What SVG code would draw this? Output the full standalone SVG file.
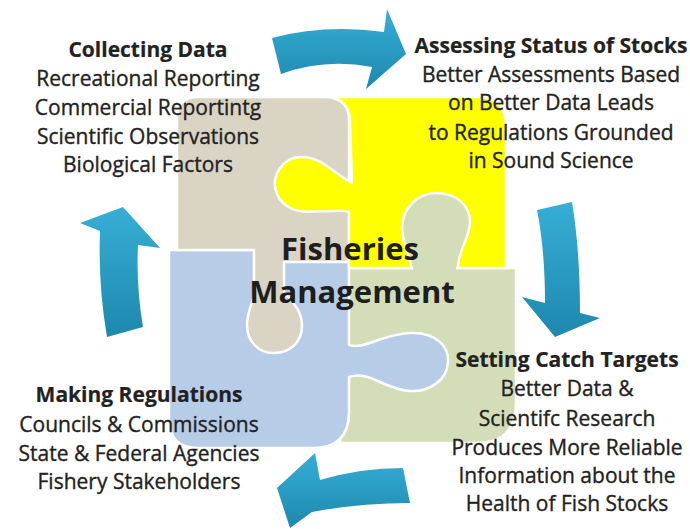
<svg xmlns="http://www.w3.org/2000/svg" width="690" height="529" viewBox="0 0 690 529">
<defs>
<linearGradient id="arrowGrad" x1="0" y1="0" x2="0" y2="1">
<stop offset="0" stop-color="#36AED6"/>
<stop offset="1" stop-color="#1E88AE"/>
</linearGradient>
<style>
.piece{stroke:#FFFFFF;stroke-width:2.5;stroke-linejoin:round}
.beige{fill:#D9D4C3}
.yellow{fill:#FFFF00}
.green{fill:#D3DDB7}
.blue{fill:#B6CCE7}
.arrow{fill:url(#arrowGrad)}
.t{font-family:"Open Sans","Liberation Sans",sans-serif;font-size:21px;fill:#222222;stroke:#222222;stroke-width:0.35;text-anchor:middle}
.b{font-weight:bold;stroke-width:0.2}
.big{font-family:"Open Sans","Liberation Sans",sans-serif;font-size:31px;font-weight:bold;fill:#1E1E1E;text-anchor:middle}
</style>
</defs>
<rect width="690" height="529" fill="#FFFFFF"/>

<g id="puzzle">
<path id="piece-green" class="piece green" d="M 340,268 L 516,268 L 516,403 Q 516,443 476,443 L 340,443 Z"/>
<path id="piece-blue" class="piece blue" d="M 169,250 L 349,250 L 349,345 C 365,350 382,334 410,333 C 438,332 449,348 448,362 C 447,380 430,392 410,391 C 385,390 370,370 349,377 L 349,412 Q 349,448 313,448 L 198,448 Q 169,448 169,418 Z"/>
<path id="piece-beige" class="piece beige" d="M 198,97 L 327,97 Q 349,99 349,120 L 349,262 L 284,262 L 284,292 C 292,302 302,310 302,326 C 302,342 290,353 274,353 C 258,353 247,341 247,325 C 247,310 254,302 254,292 L 254,250 L 177,250 L 177,118 Q 177,97 198,97 Z"/>
<path id="piece-yellow" class="piece yellow" d="M 329,97 L 478,97 Q 506,97 506,127 L 506,268 L 349,268 L 349,212 C 340,209 330,212 318,211 C 298,214 283,208 277,194 C 270,177 282,158 300,157 C 322,156 335,175 352,183 L 350,122 Q 350,100 329,97 Z"/>
<path id="knob-green" class="piece green" d="M 411,268 C 411,255 402,245 402,228 C 402,208 418,193 436,193 C 456,193 470,205 470,222 C 470,238 458,250 458,268 Z"/>
<rect class="green" x="413" y="262" width="43" height="12"/>
</g>

<g id="connectors">
<path id="arrow-top" class="arrow" d="M 272,38 Q 325,24 384,32 L 387,9 L 406,54 L 366,89 L 372,67 Q 325,58 281,74 Z"/>
<path id="arrow-right" class="arrow" d="M 537,210 L 572,202 Q 580,250 580,313 L 600,318 L 555,337 L 522,297 L 545,303 Q 545,250 537,210 Z"/>
<path id="arrow-bottom" class="arrow" d="M 403,468 Q 360,468 320,480 L 315,453 L 277,488 L 290,528 L 312,512 Q 360,503 410,503 Z"/>
<path id="arrow-left" class="arrow" d="M 107,337 Q 98,285 100,231 L 80,223 L 123,207 L 160,248 L 138,245 Q 136,285 143,327 Z"/>
</g>

<g id="node-collecting">
<text class="t b" x="148" y="57">Collecting Data</text>
<text class="t" x="148" y="86">Recreational Reporting</text>
<text class="t" x="148" y="115">Commercial Reportintg</text>
<text class="t" x="148" y="144">Scientific Observations</text>
<text class="t" x="148" y="172">Biological Factors</text>
</g>

<g id="node-assessing">
<text class="t b" x="551" y="53">Assessing Status of Stocks</text>
<text class="t" x="551" y="82">Better Assessments Based</text>
<text class="t" x="551" y="110">on Better Data Leads</text>
<text class="t" x="551" y="140">to Regulations Grounded</text>
<text class="t" x="551" y="168">in Sound Science</text>
</g>

<g id="node-setting">
<text class="t b" x="567" y="367">Setting Catch Targets</text>
<text class="t" x="567" y="396">Better Data &amp;</text>
<text class="t" x="567" y="426">Scientifc Research</text>
<text class="t" x="567" y="455">Produces More Reliable</text>
<text class="t" x="567" y="483">Information about the</text>
<text class="t" x="567" y="511">Health of Fish Stocks</text>
</g>

<g id="node-making">
<text class="t b" x="139" y="402">Making Regulations</text>
<text class="t" x="139" y="432">Councils &amp; Commissions</text>
<text class="t" x="139" y="461">State &amp; Federal Agencies</text>
<text class="t" x="139" y="489">Fishery Stakeholders</text>
</g>

<g id="node-center">
<text class="big" x="350" y="260">Fisheries</text>
<text class="big" x="352" y="303">Management</text>
</g>
</svg>
